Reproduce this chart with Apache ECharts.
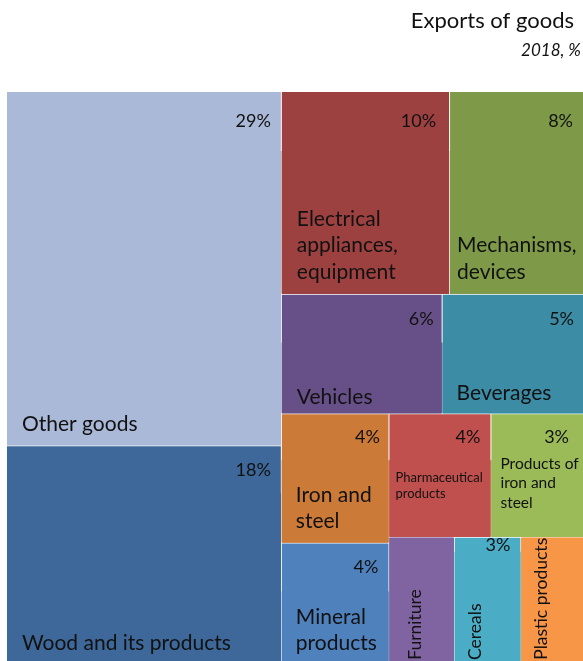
<!DOCTYPE html>
<html>
<head>
<meta charset="utf-8">
<script src="https://cdn.jsdelivr.net/npm/echarts@6/dist/echarts.min.js"></script>
<style>
  html, body { margin: 0; padding: 0; background: #fff; }
  #chart { width: 583px; height: 661px; }
</style>
</head>
<body>
<div id="chart"></div>
<script>
// Exports of goods by product group, 2018 (share of total, %)
const categories = [
  'Other goods', 'Wood and its products', 'Electrical appliances, equipment',
  'Mechanisms, devices', 'Vehicles', 'Beverages', 'Iron and steel',
  'Mineral products', 'Pharmaceutical products', 'Products of iron and steel',
  'Furniture', 'Cereals', 'Plastic products'
];
const shares = [29.4, 17.9, 10.3, 8.2, 5.8, 5.1, 4.2, 3.85, 3.8, 3.45, 2.45, 2.5, 2.35];
const palette = [
  '#aab9d7', '#3e6899', '#9d4140', '#7e9a48', '#674f87', '#3b8ca4', '#cb7a37',
  '#4f81bd', '#c0504d', '#9bbb59', '#8064a2', '#4bacc6', '#f79646'
];
// groups whose share is too small to print
const noShareLabel = ['Furniture', 'Plastic products'];

// how long names wrap inside their tiles
const wrapped = {
  'Electrical appliances, equipment': 'Electrical\nappliances,\nequipment',
  'Mechanisms, devices': 'Mechanisms,\ndevices',
  'Iron and steel': 'Iron and\nsteel',
  'Mineral products': 'Mineral\nproducts',
  'Pharmaceutical products': 'Pharmaceutical\nproducts',
  'Products of iron and steel': 'Products of\niron and\nsteel'
};

const FONT = 'Lato, "Open Sans", sans-serif';
const INK = '#111';

// name label: [left inset, bottom edge to last line centre, font size, line height]
const nameStyle = {
  'Other goods': [15, 21, 21, 26.5],
  'Wood and its products': [15, 18, 21, 26.5],
  'Electrical appliances, equipment': [15, 22, 21, 26.5],
  'Mechanisms, devices': [7, 22, 21, 26.5],
  'Vehicles': [15, 16, 21, 26.5],
  'Beverages': [14, 20, 21, 26.5],
  'Iron and steel': [14, 21, 21, 26],
  'Mineral products': [14, 18, 21, 26],
  'Pharmaceutical products': [6, 43, 13, 16],
  'Products of iron and steel': [9, 34, 15.5, 19.5]
};
// rotated names in narrow tiles: distance of the text axis from the left edge
const verticalName = { 'Furniture': 26, 'Cereals': 20.5, 'Plastic products': 20 };
// share label: [top edge to text centre, right inset]
const shareStyle = {
  'Other goods': [29.5, 10],
  'Wood and its products': [23.5, 10],
  'Electrical appliances, equipment': [29.5, 13],
  'Mechanisms, devices': [29.5, 10],
  'Vehicles': [24, 8],
  'Beverages': [24, 9],
  'Iron and steel': [23, 8.5],
  'Mineral products': [24, 10],
  'Pharmaceutical products': [23, 10],
  'Products of iron and steel': [23, 14],
  'Cereals': [7, 10]
};

function nameLabel(name) {
  const base = {
    show: true, color: INK, fontFamily: FONT, padding: 0, distance: 0,
    overflow: 'none', formatter: wrapped[name] || name
  };
  if (verticalName[name] != null) {
    return Object.assign(base, {
      fontSize: 17.5, lineHeight: 20, rotate: 90,
      position: [verticalName[name], '99%'], align: 'left', verticalAlign: 'middle'
    });
  }
  const s = nameStyle[name];
  return Object.assign(base, {
    fontSize: s[2], lineHeight: s[3], position: 'insideBottomLeft',
    align: 'left', verticalAlign: 'bottom', offset: [s[0], -(s[1] - s[3] / 2)]
  });
}

function shareLabel(name) {
  if (noShareLabel.includes(name)) return { show: false };
  const s = shareStyle[name];
  return {
    show: true, height: s[0] * 2, position: 'insideRight', distance: s[1],
    color: INK, fontFamily: FONT, fontSize: 18, lineHeight: 14, padding: 0,
    overflow: 'none', verticalAlign: 'middle',
    formatter: p => Math.round(p.value) + '%'
  };
}

// each group is a tile whose top strip carries the share and whose body carries the name
const data = categories.map((name, i) => ({
  name,
  value: shares[i],
  itemStyle: { color: palette[i], borderColor: palette[i], borderWidth: 0, gapWidth: 0 },
  upperLabel: shareLabel(name),
  children: [{
    name,
    value: shares[i],
    itemStyle: { color: palette[i], borderColor: palette[i], borderWidth: 0 },
    label: nameLabel(name)
  }]
}));

const chart = echarts.init(document.getElementById('chart'), null, { renderer: 'canvas' });
chart.setOption({
  animation: false,
  title: [
    {
      text: 'Exports of goods', right: 9, top: 10, padding: 0,
      textStyle: { fontFamily: FONT, fontSize: 22, fontWeight: 'normal', color: INK }
    },
    {
      text: '2018, %', right: 2, top: 42, padding: 0,
      textStyle: { fontFamily: FONT, fontSize: 17, fontStyle: 'italic', fontWeight: 'normal', color: INK }
    }
  ],
  series: [{
    type: 'treemap',
    left: 7, top: 92, width: 576, height: 569,
    sort: false,
    squareRatio: 1,
    roam: false,
    nodeClick: false,
    drillDownIcon: '',
    breadcrumb: { show: false },
    itemStyle: { borderWidth: 0, gapWidth: 1, borderColor: '#fff' },
    upperLabel: { show: false },
    data
  }]
});
</script>
</body>
</html>
